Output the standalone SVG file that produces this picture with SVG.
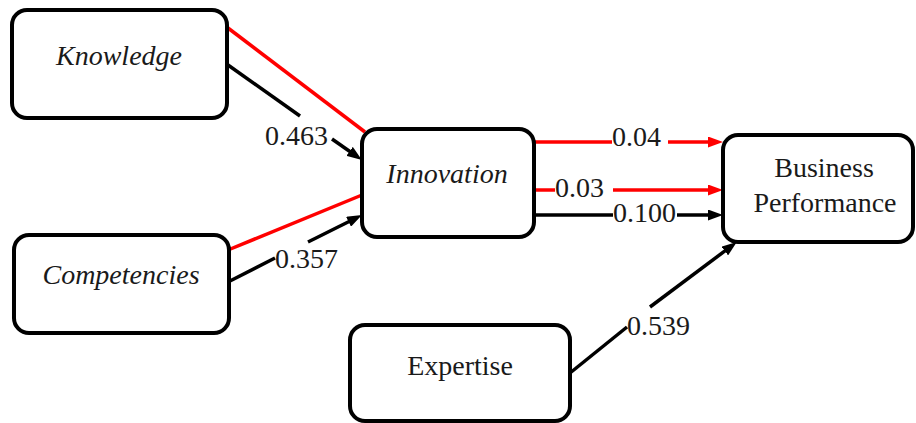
<svg xmlns="http://www.w3.org/2000/svg" width="916" height="423" viewBox="0 0 916 423">
<style>
.box{fill:#fff;stroke:#000;stroke-width:4}
text{font-family:'Liberation Serif','Times New Roman','DejaVu Serif',serif;font-size:28px;fill:#1a1a1a}
.t{text-anchor:middle}
.i{font-style:italic}
.k{stroke:#000;stroke-width:3.5;fill:none}
.r{stroke:#ff0000;stroke-width:3.5;fill:none}
</style>
<defs>
<marker id="ak" markerUnits="userSpaceOnUse" markerWidth="15" markerHeight="11" refX="9" refY="5.5" orient="auto"><path d="M0,0 L15,5.5 L0,11 z" fill="#000"/></marker>
<marker id="ar" markerUnits="userSpaceOnUse" markerWidth="15" markerHeight="11" refX="9" refY="5.5" orient="auto"><path d="M0,0 L15,5.5 L0,11 z" fill="#ff0000"/></marker>
</defs>
<rect width="916" height="423" fill="#fff"/>
<g id="connectors">
<line class="r" x1="228" y1="28" x2="365" y2="132"/>
<line class="k" x1="228" y1="65" x2="300" y2="116"/>
<line class="k" x1="332" y1="139" x2="357" y2="156.5" marker-end="url(#ak)"/>
<text x="265" y="145">0.463</text>
<line class="r" x1="228" y1="250" x2="362" y2="195"/>
<line class="k" x1="228" y1="282" x2="275" y2="258"/>
<line class="k" x1="308" y1="242" x2="356.6" y2="217.7" marker-end="url(#ak)"/>
<text x="275" y="268">0.357</text>
<line class="r" x1="535" y1="142" x2="612" y2="142"/>
<line class="r" x1="668" y1="142" x2="717" y2="142" marker-end="url(#ar)"/>
<text x="612" y="146">0.04</text>
<line class="r" x1="535" y1="190" x2="555" y2="190"/>
<line class="r" x1="613" y1="190" x2="717" y2="190" marker-end="url(#ar)"/>
<text x="555" y="197">0.03</text>
<line class="k" x1="535" y1="215" x2="613" y2="215"/>
<line class="k" x1="677" y1="215" x2="717" y2="215" marker-end="url(#ak)"/>
<text x="613" y="222">0.100</text>
<line class="k" x1="570" y1="373" x2="627" y2="327"/>
<line class="k" x1="650" y1="307" x2="732" y2="245.6" marker-end="url(#ak)"/>
<text x="627" y="335">0.539</text>
</g>
<g id="knowledge">
<rect class="box" x="12" y="10" width="215" height="108" rx="15"/>
<text class="t i" x="119" y="65">Knowledge</text>
</g>
<g id="competencies">
<rect class="box" x="14" y="235" width="215" height="98" rx="15"/>
<text class="t i" x="121" y="284">Competencies</text>
</g>
<g id="innovation">
<rect class="box" x="362" y="129" width="172" height="108" rx="15"/>
<text class="t i" x="447" y="183">Innovation</text>
</g>
<g id="business-performance">
<rect class="box" x="723" y="135" width="190" height="107" rx="15"/>
<text class="t" x="824" y="177">Business</text>
<text class="t" x="825" y="212">Performance</text>
</g>
<g id="expertise">
<rect class="box" x="350" y="325" width="220" height="96" rx="15"/>
<text class="t" x="460" y="375">Expertise</text>
</g>
</svg>
